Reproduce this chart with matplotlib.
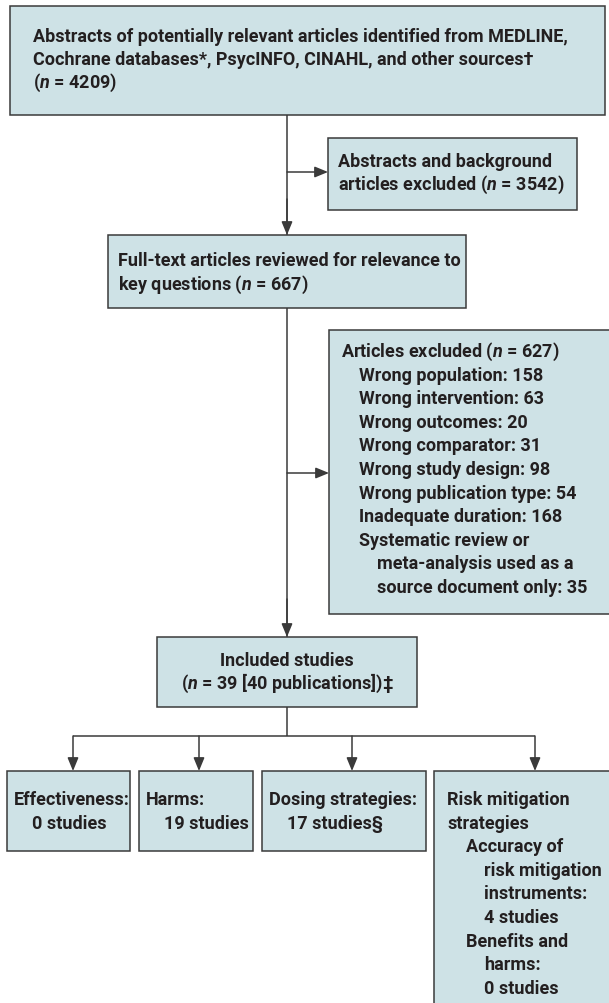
import matplotlib
matplotlib.use("Agg")
import matplotlib.pyplot as plt
from matplotlib.patches import Rectangle

# ---------------- data ----------------
identified_lines = [
    "Abstracts of potentially relevant articles identified from MEDLINE,",
    "Cochrane databases*, PsycINFO, CINAHL, and other sources\u2020",
]
identified_n = 4209
abstracts_excluded_lines = ["Abstracts and background", "articles excluded"]
abstracts_excluded_n = 3542
fulltext_lines = ["Full-text articles reviewed for relevance to", "key questions"]
fulltext_n = 667
articles_excluded_n = 627
exclusion_reasons = ["Wrong population", "Wrong intervention", "Wrong outcomes",
                     "Wrong comparator", "Wrong study design",
                     "Wrong publication type", "Inadequate duration"]
exclusion_counts = [158, 63, 20, 31, 98, 54, 168]
sr_reason_lines = ["Systematic review or", "meta-analysis used as a",
                   "source document only"]
sr_count = 35
included_n = 39
included_pubs = 40
outcome_labels = ["Effectiveness:", "Harms:", "Dosing strategies:"]
outcome_counts = ["0 studies", "19 studies", "17 studies\u00a7"]
risk_header = ["Risk mitigation", "strategies"]
risk_sub = [("Accuracy of", ["risk mitigation", "instruments:", "4 studies"]),
            ("Benefits and", ["harms:", "0 studies"])]

# ---------------- style ----------------
FILL = "#cee2e6"
EDGE = "#3a3a3a"
TXT = "#231f20"
FAM = ["Roboto", "DejaVu Sans"]
WEIGHT = "bold"
plt.rcParams["font.family"] = FAM
plt.rcParams["mathtext.fontset"] = "custom"
plt.rcParams["mathtext.it"] = "Roboto:italic:bold"
plt.rcParams["mathtext.rm"] = "Roboto:bold"

fig = plt.figure(figsize=(6.09, 10.04), dpi=100)
ax = fig.add_axes([0, 0, 1, 1])
ax.set_xlim(0, 609)
ax.set_ylim(1004, 0)
ax.axis("off")

# fit font size so that first line spans the same width as the reference
FS = 10.0
probe = ax.text(33, 40, identified_lines[0], fontsize=FS, fontweight=WEIGHT)
fig.canvas.draw()
w = probe.get_window_extent().width
probe.remove()
FS = FS * 536.0 / w


def box(x0, y0, x1, y1):
    ax.add_patch(Rectangle((x0, y0), x1 - x0, y1 - y0, facecolor=FILL,
                           edgecolor=EDGE, linewidth=1.1, zorder=2,
                           clip_on=False))


def txt(x, yc, s, ha="left"):
    ax.text(x, yc + 5, s, ha=ha, va="baseline", fontsize=FS, color=TXT,
            fontweight=WEIGHT, zorder=3)


def line(xs, ys):
    ax.plot(xs, ys, color=EDGE, lw=1.1, solid_capstyle="butt", zorder=1)


def arrow(x0, y0, x1, y1):
    ax.annotate("", xy=(x1, y1), xytext=(x0, y0),
                arrowprops=dict(arrowstyle="-|>,head_length=0.8,head_width=0.33",
                                mutation_scale=10, color=EDGE, lw=1.1,
                                shrinkA=0, shrinkB=0), zorder=1)


def nstr(n):
    return "($n$ = %s)" % n


LH = 23.6

# top box
box(10, 7, 605, 116)
lines_top = identified_lines + [nstr(identified_n)]
for i, s in enumerate(lines_top):
    txt(33, 37 + i * 23, s)

# abstracts excluded
box(328, 139, 577, 211)
ex1 = abstracts_excluded_lines[:-1] + [abstracts_excluded_lines[-1] + " " + nstr(abstracts_excluded_n)]
for i, s in enumerate(ex1):
    txt(338, 162 + i * 23, s)

# full text
box(108, 236, 466, 309)
ft = fulltext_lines[:-1] + [fulltext_lines[-1] + " " + nstr(fulltext_n)]
for i, s in enumerate(ft):
    txt(118, 261 + i * 24, s)

# articles excluded
box(329, 331, 620, 615)
y = 352
txt(341, y, "Articles excluded " + nstr(articles_excluded_n))
for r, c in zip(exclusion_reasons, exclusion_counts):
    y += LH
    txt(359, y, "%s: %d" % (r, c))
for j, s in enumerate(sr_reason_lines):
    y += LH
    if j == len(sr_reason_lines) - 1:
        s = "%s: %d" % (s, sr_count)
    txt(359 if j == 0 else 377, y, s)

# included
box(157, 638, 417, 708)
txt(287, 661, "Included studies", ha="center")
txt(287, 684, "($n$ = %d [%d publications])\u2021" % (included_n, included_pubs), ha="center")

# connectors
line([287, 287], [116, 236])
arrow(287, 200, 287, 236)
arrow(287, 173, 328, 173)
line([287, 287], [309, 638])
arrow(287, 600, 287, 638)
arrow(287, 474, 329, 474)
line([287, 287], [708, 737])
drops = [73, 199, 352, 535]
line([drops[0], drops[-1]], [737, 737])
for dx in drops:
    arrow(dx, 737, dx, 772)

# outcome boxes
obox = [(7, 130, 14), (139, 253, 146), (262, 426, 269)]
for (x0, x1, tx), lab, cnt in zip(obox, outcome_labels, outcome_counts):
    box(x0, 772, x1, 852)
    txt(tx, 800, lab)
    txt(tx + 18, 824, cnt)

box(434, 772, 620, 1010)
y = 800
for s in risk_header:
    txt(447, y, s)
    y += LH
for head, subs in risk_sub:
    txt(466, y, head)
    y += LH
    for s in subs:
        txt(484, y, s)
        y += LH

fig.savefig("out.png", dpi=100)
